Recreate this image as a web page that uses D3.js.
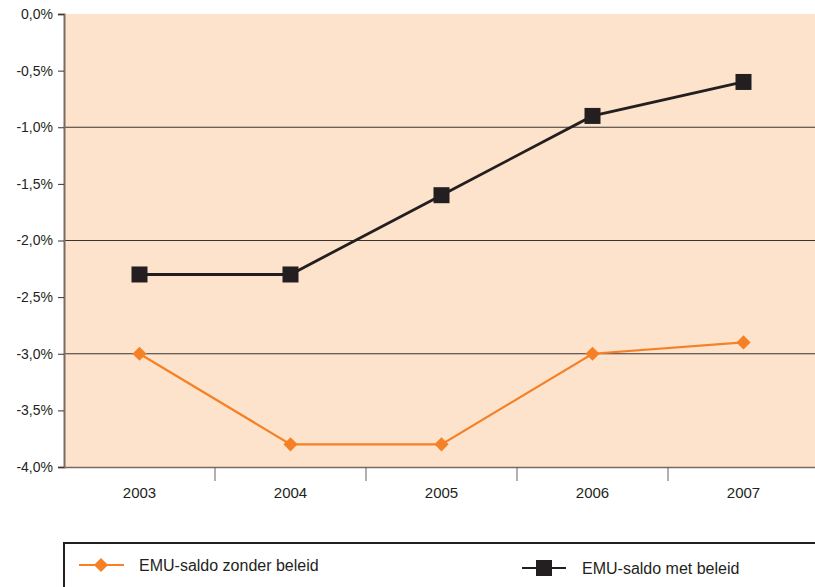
<!DOCTYPE html>
<html><head><meta charset="utf-8">
<script src="https://cdn.jsdelivr.net/npm/d3@7"></script>
<style>body{margin:0;background:#fff;}svg{display:block;font-family:"Liberation Sans",Arial,sans-serif;}</style>
</head><body><svg id="c" width="815" height="587"></svg>
<script>
const years = ["2003","2004","2005","2006","2007"];
const zonderBeleid = [-3.0, -3.8, -3.8, -3.0, -2.9];
const metBeleid = [-2.3, -2.3, -1.6, -0.9, -0.6];
const yTicks = [0, -0.5, -1.0, -1.5, -2.0, -2.5, -3.0, -3.5, -4.0];
const gridVals = [-1.0, -2.0, -3.0];
const seriesNames = ["EMU-saldo zonder beleid", "EMU-saldo met beleid"];

(function () {
const svg = d3.select("#c");
const pl = 64, pr = 819, pt = 14, pb = 467;
const x = d3.scaleBand().domain(years).range([pl, pr]);
const y = d3.scaleLinear().domain([-4, 0]).range([pb, pt]);
const txt = "#231f20";

svg.append("rect").attr("x", pl).attr("y", pt).attr("width", pr - pl).attr("height", pb - pt).attr("fill", "#fde3cb");

svg.selectAll(".grid").data(gridVals).enter().append("line")
  .attr("x1", pl).attr("x2", pr).attr("y1", d => y(d)).attr("y2", d => y(d))
  .attr("stroke", "#3a3333").attr("stroke-width", 1);

// y axis
const yAxis = d3.axisLeft(y).tickValues(yTicks).tickSize(6).tickPadding(5)
  .tickFormat(d => (d === 0 ? "0,0" : d3.format(".1f")(d).replace(".", ",").replace("−", "-")) + "%");
const ya = svg.append("g").attr("transform", `translate(${pl},0)`).call(yAxis);
ya.select(".domain").attr("stroke", "#7a6a62").attr("stroke-width", 2);
ya.selectAll(".tick line").attr("stroke", "#3a3333");
ya.selectAll("text").attr("fill", txt).style("font-size", "14px");

// x axis
const xa = svg.append("g").attr("transform", `translate(0,${pb})`)
  .call(d3.axisBottom(x).tickSize(0).tickPadding(20));
xa.select(".domain").attr("stroke", "#7a6a62").attr("stroke-width", 1.5);
xa.selectAll("text").attr("fill", txt).style("font-size", "15px");
xa.selectAll(".sep").data(years.slice(1)).enter().append("line")
  .attr("x1", d => x(d)).attr("x2", d => x(d)).attr("y1", 0).attr("y2", 14)
  .attr("stroke", "#6a6060").attr("stroke-width", 1);

const cx = d => x(d) + x.bandwidth() / 2;
const line = d3.line().x((d, i) => cx(years[i])).y(d => y(d));

const orange = "#f58026", black = "#231f20";
svg.append("path").datum(zonderBeleid).attr("d", line).attr("fill", "none").attr("stroke", orange).attr("stroke-width", 2.2);
svg.append("path").datum(metBeleid).attr("d", line).attr("fill", "none").attr("stroke", black).attr("stroke-width", 2.8);

svg.selectAll(".dm").data(zonderBeleid).enter().append("rect")
  .attr("x", -5).attr("y", -5).attr("width", 10).attr("height", 10)
  .attr("transform", (d, i) => `translate(${cx(years[i])},${y(d)}) rotate(45)`)
  .attr("fill", orange);
svg.selectAll(".sq").data(metBeleid).enter().append("rect")
  .attr("x", (d, i) => cx(years[i]) - 8).attr("y", d => y(d) - 8)
  .attr("width", 16).attr("height", 16).attr("fill", black);

// legend
svg.append("rect").attr("x", 64).attr("y", 543).attr("width", 800).attr("height", 80)
  .attr("fill", "none").attr("stroke", black).attr("stroke-width", 2);
const lg = svg.append("g");
lg.append("line").attr("x1", 79).attr("x2", 124).attr("y1", 565).attr("y2", 565).attr("stroke", orange).attr("stroke-width", 2);
lg.append("rect").attr("x", -5).attr("y", -5).attr("width", 10).attr("height", 10)
  .attr("transform", "translate(101,565) rotate(45)").attr("fill", orange);
lg.append("text").attr("x", 139).attr("y", 571).text(seriesNames[0]).attr("fill", txt).style("font-size", "16px");
lg.append("line").attr("x1", 522).attr("x2", 566).attr("y1", 568).attr("y2", 568).attr("stroke", black).attr("stroke-width", 2);
lg.append("rect").attr("x", 536).attr("y", 560).attr("width", 16).attr("height", 16).attr("fill", black);
lg.append("text").attr("x", 582).attr("y", 574).text(seriesNames[1]).attr("fill", txt).style("font-size", "16px");
})();
</script></body></html>
